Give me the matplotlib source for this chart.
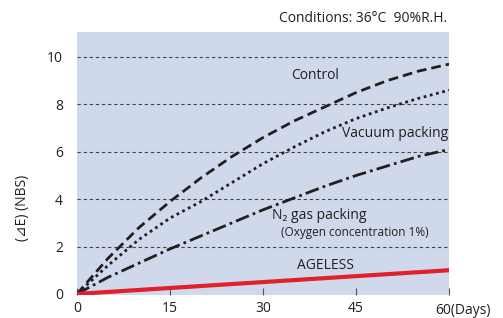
import matplotlib
matplotlib.use("Agg")
import matplotlib.pyplot as plt

days = [0, 5, 10, 15, 20, 25, 30, 35, 40, 45, 50, 55, 60]
control = [0, 1.5, 2.8, 3.9, 4.9, 5.8, 6.6, 7.3, 7.9, 8.5, 9.0, 9.4, 9.7]
vacuum = [0, 1.2, 2.3, 3.2, 3.9, 4.7, 5.5, 6.2, 6.85, 7.4, 7.85, 8.25, 8.6]
n2 = [0, 0.7, 1.3, 1.9, 2.45, 3.0, 3.55, 4.05, 4.55, 5.0, 5.4, 5.8, 6.1]
ageless_days = [0, 60]
ageless = [0, 1.0]
xticks = [0, 15, 30, 45, 60]
xticklabels = ['0', '15', '30', '45', '']
yticks = [0, 2, 4, 6, 8, 10]

plt.rcParams['font.family'] = ['Open Sans', 'DejaVu Sans']
dark = '#231f20'

fig = plt.figure(figsize=(5.03, 3.18), dpi=100)
ax = fig.add_axes([0.153, 0.072, 0.740, 0.827])
ax.set_facecolor('#d0d9ec')
for s in ax.spines.values():
    s.set_visible(False)

for y in yticks[1:]:
    ax.axhline(y, color='#444444', lw=0.8, ls=(0, (3, 2.5)), zorder=1)

ax.plot(days, control, color=dark, lw=2, ls=(0, (3.5, 1.8)), zorder=3)
ax.plot(days, vacuum, color=dark, lw=2, ls=(0, (1, 1.3)), zorder=3)
ax.plot(days, n2, color=dark, lw=2, ls=(0, (5, 1.5, 1, 1.5)), zorder=3)
ax.plot(ageless_days, ageless, color='#e2202c', lw=3, zorder=4, solid_capstyle='butt')

ax.set_xlim(0, 60)
ax.set_ylim(-0.05, 11.05)
ax.set_xticks(xticks)
ax.set_xticklabels(xticklabels)
ax.set_yticks(yticks)
ax.tick_params(axis='y', length=0, labelsize=10, pad=10, colors=dark)
ax.tick_params(axis='x', direction='in', length=5, labelsize=10, pad=4, colors=dark, color='#555555')

fig.text(0.866, 0.025, '60(Days)', fontsize=10, color=dark, ha='left', va='center')
ax.set_ylabel('(⊿E) (NBS)', fontsize=10, color=dark)
ax.yaxis.set_label_coords(-0.125, 0.33)

ax.text(38.4, 9.24, 'Control', fontsize=10, color=dark, ha='center', va='center')
ax.text(51.3, 6.75, 'Vacuum packing', fontsize=10, color=dark, ha='center', va='center')
ax.text(39, 3.33, 'N₂ gas packing', fontsize=10, color=dark, ha='center', va='center')
ax.text(44.8, 2.6, '(Oxygen concentration 1%)', fontsize=8.5, color=dark, ha='center', va='center')
ax.text(40, 1.22, 'AGELESS', fontsize=10, color=dark, ha='center', va='center')

fig.text(0.889, 0.943, 'Conditions: 36°C  90%R.H.', fontsize=10, color=dark, ha='right', va='center')

fig.savefig('out.png', dpi=100)
